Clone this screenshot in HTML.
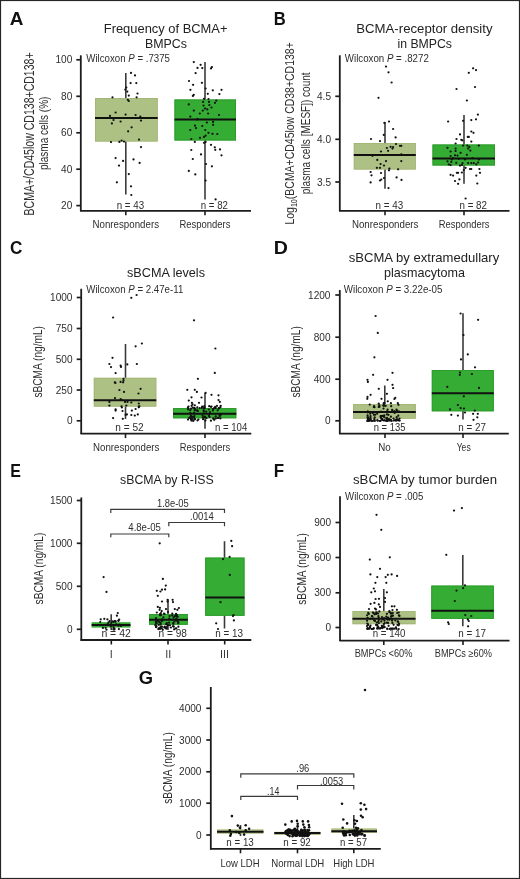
<!DOCTYPE html>
<html><head><meta charset="utf-8"><style>
html,body{margin:0;padding:0;background:#fff;}
svg{display:block;will-change:transform;}
text{font-family:"Liberation Sans", sans-serif;}
</style></head><body>
<svg width="520" height="879" viewBox="0 0 520 879">
<rect x="0" y="0" width="520" height="879" fill="#fff"/>
<rect x="0.5" y="0.5" width="519" height="878" fill="none" stroke="#262626" stroke-width="1.2"/>
<text x="9.73" y="24.6" font-size="18.4" fill="#111" font-weight="bold" textLength="13.67" lengthAdjust="spacingAndGlyphs">A</text>
<text x="165.6" y="32.5" font-size="13.4" fill="#222" text-anchor="middle" textLength="123.7" lengthAdjust="spacingAndGlyphs">Frequency of BCMA+</text>
<text x="166" y="47.5" font-size="13.4" fill="#222" text-anchor="middle" textLength="42" lengthAdjust="spacingAndGlyphs">BMPCs</text>
<line x1="80.8" y1="55.3" x2="80.8" y2="211" stroke="#1c1c1c" stroke-width="1.8"/>
<line x1="76.3" y1="59.8" x2="80.8" y2="59.8" stroke="#1c1c1c" stroke-width="1.7"/>
<text x="72.3" y="63.4" font-size="10.3" fill="#2e2e2e" text-anchor="end" textLength="16.84" lengthAdjust="spacingAndGlyphs">100</text>
<line x1="76.3" y1="96.3" x2="80.8" y2="96.3" stroke="#1c1c1c" stroke-width="1.7"/>
<text x="72.3" y="99.89999999999999" font-size="10.3" fill="#2e2e2e" text-anchor="end" textLength="11.22" lengthAdjust="spacingAndGlyphs">80</text>
<line x1="76.3" y1="132.8" x2="80.8" y2="132.8" stroke="#1c1c1c" stroke-width="1.7"/>
<text x="72.3" y="136.4" font-size="10.3" fill="#2e2e2e" text-anchor="end" textLength="11.22" lengthAdjust="spacingAndGlyphs">60</text>
<line x1="76.3" y1="169.2" x2="80.8" y2="169.2" stroke="#1c1c1c" stroke-width="1.7"/>
<text x="72.3" y="172.79999999999998" font-size="10.3" fill="#2e2e2e" text-anchor="end" textLength="11.22" lengthAdjust="spacingAndGlyphs">40</text>
<line x1="76.3" y1="205.6" x2="80.8" y2="205.6" stroke="#1c1c1c" stroke-width="1.7"/>
<text x="72.3" y="209.2" font-size="10.3" fill="#2e2e2e" text-anchor="end" textLength="11.22" lengthAdjust="spacingAndGlyphs">20</text>
<line x1="80" y1="210.8" x2="251" y2="210.8" stroke="#1c1c1c" stroke-width="1.8"/>
<line x1="125.8" y1="210.8" x2="125.8" y2="215.3" stroke="#1c1c1c" stroke-width="1.6"/>
<line x1="205" y1="210.8" x2="205" y2="215.3" stroke="#1c1c1c" stroke-width="1.6"/>
<line x1="125.8" y1="73" x2="125.8" y2="194.5" stroke="#3a3a3a" stroke-width="1.6"/>
<rect x="95" y="98" width="62.69999999999999" height="43.5" fill="#aec184"/>
<rect x="95.45" y="98.45" width="61.79999999999999" height="42.6" fill="none" stroke="#a3b678" stroke-width="0.9"/>
<line x1="95" y1="118" x2="157.7" y2="118" stroke="#111" stroke-width="2.0"/>
<line x1="205" y1="62" x2="205" y2="199.5" stroke="#3a3a3a" stroke-width="1.6"/>
<rect x="174.5" y="99.5" width="61.5" height="41.0" fill="#35ac33"/>
<rect x="174.95" y="99.95" width="60.6" height="40.1" fill="none" stroke="#2e9a2c" stroke-width="0.9"/>
<line x1="174.5" y1="119.5" x2="236" y2="119.5" stroke="#111" stroke-width="2.0"/>
<text x="273.79" y="24.5" font-size="18.4" fill="#111" font-weight="bold" textLength="11.96" lengthAdjust="spacingAndGlyphs">B</text>
<text x="424.4" y="32.5" font-size="13.4" fill="#222" text-anchor="middle" textLength="136.3" lengthAdjust="spacingAndGlyphs">BCMA-receptor density</text>
<text x="424.7" y="47.5" font-size="13.4" fill="#222" text-anchor="middle" textLength="54.5" lengthAdjust="spacingAndGlyphs">in BMPCs</text>
<line x1="339.8" y1="55.3" x2="339.8" y2="211" stroke="#1c1c1c" stroke-width="1.8"/>
<line x1="335.3" y1="96.3" x2="339.8" y2="96.3" stroke="#1c1c1c" stroke-width="1.7"/>
<text x="331" y="99.89999999999999" font-size="10.3" fill="#2e2e2e" text-anchor="end" textLength="14.03" lengthAdjust="spacingAndGlyphs">4.5</text>
<line x1="335.3" y1="139.3" x2="339.8" y2="139.3" stroke="#1c1c1c" stroke-width="1.7"/>
<text x="331" y="142.9" font-size="10.3" fill="#2e2e2e" text-anchor="end" textLength="14.03" lengthAdjust="spacingAndGlyphs">4.0</text>
<line x1="335.3" y1="182" x2="339.8" y2="182" stroke="#1c1c1c" stroke-width="1.7"/>
<text x="331" y="185.6" font-size="10.3" fill="#2e2e2e" text-anchor="end" textLength="14.03" lengthAdjust="spacingAndGlyphs">3.5</text>
<line x1="339" y1="210.8" x2="509.5" y2="210.8" stroke="#1c1c1c" stroke-width="1.8"/>
<line x1="385" y1="210.8" x2="385" y2="215.3" stroke="#1c1c1c" stroke-width="1.6"/>
<line x1="464" y1="210.8" x2="464" y2="215.3" stroke="#1c1c1c" stroke-width="1.6"/>
<line x1="385" y1="122" x2="385" y2="188.8" stroke="#3a3a3a" stroke-width="1.6"/>
<rect x="353.8" y="143" width="62.0" height="26.5" fill="#aec184"/>
<rect x="354.25" y="143.45" width="61.1" height="25.6" fill="none" stroke="#a3b678" stroke-width="0.9"/>
<line x1="353.8" y1="155" x2="415.8" y2="155" stroke="#111" stroke-width="2.0"/>
<line x1="464" y1="115" x2="464" y2="183.8" stroke="#3a3a3a" stroke-width="1.6"/>
<rect x="432.5" y="144.5" width="62.5" height="21.0" fill="#35ac33"/>
<rect x="432.95" y="144.95" width="61.6" height="20.1" fill="none" stroke="#2e9a2c" stroke-width="0.9"/>
<line x1="432.5" y1="158.5" x2="495" y2="158.5" stroke="#111" stroke-width="2.0"/>
<text x="10.1" y="254.42" font-size="18.4" fill="#111" font-weight="bold" textLength="12.37" lengthAdjust="spacingAndGlyphs">C</text>
<text x="166" y="277" font-size="13.4" fill="#222" text-anchor="middle" textLength="78" lengthAdjust="spacingAndGlyphs">sBCMA levels</text>
<line x1="81.2" y1="288.8" x2="81.2" y2="434" stroke="#1c1c1c" stroke-width="1.8"/>
<line x1="76.7" y1="297.5" x2="81.2" y2="297.5" stroke="#1c1c1c" stroke-width="1.7"/>
<text x="72.5" y="301.1" font-size="10.3" fill="#2e2e2e" text-anchor="end" textLength="22.45" lengthAdjust="spacingAndGlyphs">1000</text>
<line x1="76.7" y1="328.5" x2="81.2" y2="328.5" stroke="#1c1c1c" stroke-width="1.7"/>
<text x="72.5" y="332.1" font-size="10.3" fill="#2e2e2e" text-anchor="end" textLength="16.84" lengthAdjust="spacingAndGlyphs">750</text>
<line x1="76.7" y1="359.3" x2="81.2" y2="359.3" stroke="#1c1c1c" stroke-width="1.7"/>
<text x="72.5" y="362.90000000000003" font-size="10.3" fill="#2e2e2e" text-anchor="end" textLength="16.84" lengthAdjust="spacingAndGlyphs">500</text>
<line x1="76.7" y1="390" x2="81.2" y2="390" stroke="#1c1c1c" stroke-width="1.7"/>
<text x="72.5" y="393.6" font-size="10.3" fill="#2e2e2e" text-anchor="end" textLength="16.84" lengthAdjust="spacingAndGlyphs">250</text>
<line x1="76.7" y1="420.8" x2="81.2" y2="420.8" stroke="#1c1c1c" stroke-width="1.7"/>
<text x="72.5" y="424.40000000000003" font-size="10.3" fill="#2e2e2e" text-anchor="end" textLength="5.61" lengthAdjust="spacingAndGlyphs">0</text>
<line x1="80.5" y1="433.6" x2="251.3" y2="433.6" stroke="#1c1c1c" stroke-width="1.8"/>
<line x1="125.5" y1="433.6" x2="125.5" y2="438.1" stroke="#1c1c1c" stroke-width="1.6"/>
<line x1="205" y1="433.6" x2="205" y2="438.1" stroke="#1c1c1c" stroke-width="1.6"/>
<line x1="125.5" y1="344" x2="125.5" y2="419" stroke="#3a3a3a" stroke-width="1.6"/>
<rect x="93.8" y="377.8" width="62.500000000000014" height="28.80000000000001" fill="#aec184"/>
<rect x="94.25" y="378.25" width="61.600000000000016" height="27.900000000000013" fill="none" stroke="#a3b678" stroke-width="0.9"/>
<line x1="93.8" y1="400.3" x2="156.3" y2="400.3" stroke="#111" stroke-width="2.0"/>
<line x1="205" y1="393" x2="205" y2="428.8" stroke="#3a3a3a" stroke-width="1.6"/>
<rect x="173" y="408" width="63.30000000000001" height="10.300000000000011" fill="#35ac33"/>
<rect x="173.45" y="408.45" width="62.40000000000001" height="9.400000000000011" fill="none" stroke="#2e9a2c" stroke-width="0.9"/>
<line x1="173" y1="413.8" x2="236.3" y2="413.8" stroke="#111" stroke-width="2.0"/>
<text x="273.69" y="254.3" font-size="18.4" fill="#111" font-weight="bold" textLength="14.14" lengthAdjust="spacingAndGlyphs">D</text>
<text x="424" y="262" font-size="13.4" fill="#222" text-anchor="middle" textLength="150.5" lengthAdjust="spacingAndGlyphs">sBCMA by extramedullary</text>
<text x="424.5" y="277" font-size="13.4" fill="#222" text-anchor="middle" textLength="81" lengthAdjust="spacingAndGlyphs">plasmacytoma</text>
<line x1="339.8" y1="290" x2="339.8" y2="434" stroke="#1c1c1c" stroke-width="1.8"/>
<line x1="335.3" y1="295" x2="339.8" y2="295" stroke="#1c1c1c" stroke-width="1.7"/>
<text x="330.5" y="298.6" font-size="10.3" fill="#2e2e2e" text-anchor="end" textLength="22.45" lengthAdjust="spacingAndGlyphs">1200</text>
<line x1="335.3" y1="337.2" x2="339.8" y2="337.2" stroke="#1c1c1c" stroke-width="1.7"/>
<text x="330.5" y="340.8" font-size="10.3" fill="#2e2e2e" text-anchor="end" textLength="16.84" lengthAdjust="spacingAndGlyphs">800</text>
<line x1="335.3" y1="379.2" x2="339.8" y2="379.2" stroke="#1c1c1c" stroke-width="1.7"/>
<text x="330.5" y="382.8" font-size="10.3" fill="#2e2e2e" text-anchor="end" textLength="16.84" lengthAdjust="spacingAndGlyphs">400</text>
<line x1="335.3" y1="420.8" x2="339.8" y2="420.8" stroke="#1c1c1c" stroke-width="1.7"/>
<text x="330.5" y="424.40000000000003" font-size="10.3" fill="#2e2e2e" text-anchor="end" textLength="5.61" lengthAdjust="spacingAndGlyphs">0</text>
<line x1="339" y1="433.6" x2="508.8" y2="433.6" stroke="#1c1c1c" stroke-width="1.8"/>
<line x1="385" y1="433.6" x2="385" y2="438.1" stroke="#1c1c1c" stroke-width="1.6"/>
<line x1="463" y1="433.6" x2="463" y2="438.1" stroke="#1c1c1c" stroke-width="1.6"/>
<line x1="384.8" y1="385.6" x2="384.8" y2="421" stroke="#3a3a3a" stroke-width="1.6"/>
<rect x="353" y="404" width="62.80000000000001" height="14.699999999999989" fill="#aec184"/>
<rect x="353.45" y="404.45" width="61.90000000000001" height="13.799999999999988" fill="none" stroke="#a3b678" stroke-width="0.9"/>
<line x1="353" y1="411.9" x2="415.8" y2="411.9" stroke="#111" stroke-width="2.0"/>
<line x1="463" y1="313.3" x2="463" y2="419.5" stroke="#3a3a3a" stroke-width="1.6"/>
<rect x="431.8" y="370" width="62.0" height="41.30000000000001" fill="#35ac33"/>
<rect x="432.25" y="370.45" width="61.1" height="40.40000000000001" fill="none" stroke="#2e9a2c" stroke-width="0.9"/>
<line x1="431.8" y1="393.3" x2="493.8" y2="393.3" stroke="#111" stroke-width="2.0"/>
<text x="10.23" y="477.3" font-size="18.4" fill="#111" font-weight="bold" textLength="10.7" lengthAdjust="spacingAndGlyphs">E</text>
<text x="166.9" y="484.2" font-size="13.4" fill="#222" text-anchor="middle" textLength="93.7" lengthAdjust="spacingAndGlyphs">sBCMA by R-ISS</text>
<line x1="81.3" y1="497.5" x2="81.3" y2="640.8" stroke="#1c1c1c" stroke-width="1.8"/>
<line x1="76.8" y1="500.5" x2="81.3" y2="500.5" stroke="#1c1c1c" stroke-width="1.7"/>
<text x="72.5" y="504.1" font-size="10.3" fill="#2e2e2e" text-anchor="end" textLength="22.45" lengthAdjust="spacingAndGlyphs">1500</text>
<line x1="76.8" y1="543.3" x2="81.3" y2="543.3" stroke="#1c1c1c" stroke-width="1.7"/>
<text x="72.5" y="546.9" font-size="10.3" fill="#2e2e2e" text-anchor="end" textLength="22.45" lengthAdjust="spacingAndGlyphs">1000</text>
<line x1="76.8" y1="586.3" x2="81.3" y2="586.3" stroke="#1c1c1c" stroke-width="1.7"/>
<text x="72.5" y="589.9" font-size="10.3" fill="#2e2e2e" text-anchor="end" textLength="16.84" lengthAdjust="spacingAndGlyphs">500</text>
<line x1="76.8" y1="629.3" x2="81.3" y2="629.3" stroke="#1c1c1c" stroke-width="1.7"/>
<text x="72.5" y="632.9" font-size="10.3" fill="#2e2e2e" text-anchor="end" textLength="5.61" lengthAdjust="spacingAndGlyphs">0</text>
<line x1="80.5" y1="640" x2="251.3" y2="640" stroke="#1c1c1c" stroke-width="1.8"/>
<line x1="111.3" y1="640" x2="111.3" y2="644.5" stroke="#1c1c1c" stroke-width="1.6"/>
<line x1="168" y1="640" x2="168" y2="644.5" stroke="#1c1c1c" stroke-width="1.6"/>
<line x1="224.7" y1="640" x2="224.7" y2="644.5" stroke="#1c1c1c" stroke-width="1.6"/>
<line x1="111.2" y1="614.3" x2="111.2" y2="630" stroke="#3a3a3a" stroke-width="1.6"/>
<rect x="91.6" y="622.2" width="38.900000000000006" height="5.399999999999977" fill="#35ac33"/>
<line x1="91.6" y1="625" x2="130.5" y2="625" stroke="#111" stroke-width="2.0"/>
<line x1="168" y1="599.4" x2="168" y2="630" stroke="#3a3a3a" stroke-width="1.6"/>
<rect x="149" y="614" width="38.80000000000001" height="10.799999999999955" fill="#35ac33"/>
<rect x="149.45" y="614.45" width="37.90000000000001" height="9.899999999999954" fill="none" stroke="#2e9a2c" stroke-width="0.9"/>
<line x1="149" y1="619.7" x2="187.8" y2="619.7" stroke="#111" stroke-width="2.0"/>
<line x1="224.5" y1="541.2" x2="224.5" y2="628.5" stroke="#3a3a3a" stroke-width="1.6"/>
<rect x="205.2" y="557.6" width="39.30000000000001" height="58.19999999999993" fill="#35ac33"/>
<rect x="205.64999999999998" y="558.0500000000001" width="38.40000000000001" height="57.29999999999993" fill="none" stroke="#2e9a2c" stroke-width="0.9"/>
<line x1="205.2" y1="597.5" x2="244.5" y2="597.5" stroke="#111" stroke-width="2.0"/>
<path d="M110.8 513.0 V509.3 H224.5 V513.0" fill="none" stroke="#3a3a3a" stroke-width="1.2"/>
<path d="M168.8 526.2 V522.5 H224.5 V526.2" fill="none" stroke="#3a3a3a" stroke-width="1.2"/>
<path d="M110.8 537.2 V534 H168.8 V537.2" fill="none" stroke="#3a3a3a" stroke-width="1.2"/>
<text x="273.86" y="477.3" font-size="18.4" fill="#111" font-weight="bold" textLength="10.36" lengthAdjust="spacingAndGlyphs">F</text>
<text x="425" y="483.8" font-size="13.4" fill="#222" text-anchor="middle" textLength="144" lengthAdjust="spacingAndGlyphs">sBCMA by tumor burden</text>
<line x1="340" y1="496.3" x2="340" y2="641" stroke="#1c1c1c" stroke-width="1.8"/>
<line x1="335.5" y1="522.5" x2="340" y2="522.5" stroke="#1c1c1c" stroke-width="1.7"/>
<text x="331" y="526.1" font-size="10.3" fill="#2e2e2e" text-anchor="end" textLength="16.84" lengthAdjust="spacingAndGlyphs">900</text>
<line x1="335.5" y1="557.5" x2="340" y2="557.5" stroke="#1c1c1c" stroke-width="1.7"/>
<text x="331" y="561.1" font-size="10.3" fill="#2e2e2e" text-anchor="end" textLength="16.84" lengthAdjust="spacingAndGlyphs">600</text>
<line x1="335.5" y1="592.8" x2="340" y2="592.8" stroke="#1c1c1c" stroke-width="1.7"/>
<text x="331" y="596.4" font-size="10.3" fill="#2e2e2e" text-anchor="end" textLength="16.84" lengthAdjust="spacingAndGlyphs">300</text>
<line x1="335.5" y1="627.5" x2="340" y2="627.5" stroke="#1c1c1c" stroke-width="1.7"/>
<text x="331" y="631.1" font-size="10.3" fill="#2e2e2e" text-anchor="end" textLength="5.61" lengthAdjust="spacingAndGlyphs">0</text>
<line x1="339.5" y1="640.6" x2="509.5" y2="640.6" stroke="#1c1c1c" stroke-width="1.8"/>
<line x1="383.8" y1="640.6" x2="383.8" y2="645.1" stroke="#1c1c1c" stroke-width="1.6"/>
<line x1="463" y1="640.6" x2="463" y2="645.1" stroke="#1c1c1c" stroke-width="1.6"/>
<line x1="383.8" y1="589" x2="383.8" y2="628" stroke="#3a3a3a" stroke-width="1.6"/>
<rect x="352.5" y="611.1" width="63.0" height="13.100000000000023" fill="#aec184"/>
<rect x="352.95" y="611.5500000000001" width="62.1" height="12.200000000000022" fill="none" stroke="#a3b678" stroke-width="0.9"/>
<line x1="352.5" y1="618.7" x2="415.5" y2="618.7" stroke="#111" stroke-width="2.0"/>
<line x1="462.8" y1="555" x2="462.8" y2="626.3" stroke="#3a3a3a" stroke-width="1.6"/>
<rect x="431.3" y="585.6" width="62.5" height="33.19999999999993" fill="#35ac33"/>
<rect x="431.75" y="586.0500000000001" width="61.6" height="32.29999999999993" fill="none" stroke="#2e9a2c" stroke-width="0.9"/>
<line x1="431.3" y1="610.8" x2="493.8" y2="610.8" stroke="#111" stroke-width="2.0"/>
<text x="138.85" y="684.11" font-size="18.4" fill="#111" font-weight="bold" textLength="14.29" lengthAdjust="spacingAndGlyphs">G</text>
<line x1="210.8" y1="687" x2="210.8" y2="849.5" stroke="#1c1c1c" stroke-width="1.8"/>
<line x1="206.3" y1="708.3" x2="210.8" y2="708.3" stroke="#1c1c1c" stroke-width="1.7"/>
<text x="201.5" y="711.9" font-size="10.3" fill="#2e2e2e" text-anchor="end" textLength="22.45" lengthAdjust="spacingAndGlyphs">4000</text>
<line x1="206.3" y1="740" x2="210.8" y2="740" stroke="#1c1c1c" stroke-width="1.7"/>
<text x="201.5" y="743.6" font-size="10.3" fill="#2e2e2e" text-anchor="end" textLength="22.45" lengthAdjust="spacingAndGlyphs">3000</text>
<line x1="206.3" y1="771.8" x2="210.8" y2="771.8" stroke="#1c1c1c" stroke-width="1.7"/>
<text x="201.5" y="775.4" font-size="10.3" fill="#2e2e2e" text-anchor="end" textLength="22.45" lengthAdjust="spacingAndGlyphs">2000</text>
<line x1="206.3" y1="803.2" x2="210.8" y2="803.2" stroke="#1c1c1c" stroke-width="1.7"/>
<text x="201.5" y="806.8000000000001" font-size="10.3" fill="#2e2e2e" text-anchor="end" textLength="22.45" lengthAdjust="spacingAndGlyphs">1000</text>
<line x1="206.3" y1="835" x2="210.8" y2="835" stroke="#1c1c1c" stroke-width="1.7"/>
<text x="201.5" y="838.6" font-size="10.3" fill="#2e2e2e" text-anchor="end" textLength="5.61" lengthAdjust="spacingAndGlyphs">0</text>
<line x1="210" y1="848.8" x2="380.8" y2="848.8" stroke="#1c1c1c" stroke-width="1.8"/>
<line x1="240.5" y1="848.8" x2="240.5" y2="853.3" stroke="#1c1c1c" stroke-width="1.6"/>
<line x1="297.5" y1="848.8" x2="297.5" y2="853.3" stroke="#1c1c1c" stroke-width="1.6"/>
<line x1="353.8" y1="848.8" x2="353.8" y2="853.3" stroke="#1c1c1c" stroke-width="1.6"/>
<line x1="240.5" y1="825" x2="240.5" y2="836" stroke="#3a3a3a" stroke-width="1.6"/>
<rect x="217" y="829.3" width="46.5" height="4.5" fill="#aec184"/>
<line x1="217" y1="831.8" x2="263.5" y2="831.8" stroke="#111" stroke-width="2.0"/>
<line x1="297.5" y1="825" x2="297.5" y2="836" stroke="#3a3a3a" stroke-width="1.6"/>
<rect x="274.3" y="831.8" width="46.19999999999999" height="3.2000000000000455" fill="#aec184"/>
<line x1="274.3" y1="833" x2="320.5" y2="833" stroke="#111" stroke-width="2.0"/>
<line x1="353.8" y1="815" x2="353.8" y2="836" stroke="#3a3a3a" stroke-width="1.6"/>
<rect x="331.3" y="828.3" width="45.69999999999999" height="4.7000000000000455" fill="#aec184"/>
<line x1="331.3" y1="831.3" x2="377" y2="831.3" stroke="#111" stroke-width="2.0"/>
<path d="M240.8 777.8 V773.8 H353.8 V777.8" fill="none" stroke="#3a3a3a" stroke-width="1.2"/>
<path d="M297.5 789.5 V785.5 H353.8 V789.5" fill="none" stroke="#3a3a3a" stroke-width="1.2"/>
<path d="M240.8 800.0 V796.3 H297.5 V800.0" fill="none" stroke="#3a3a3a" stroke-width="1.2"/>
<text x="34" y="215.5" font-size="14" fill="#2e2e2e" textLength="163.1" lengthAdjust="spacingAndGlyphs" transform="rotate(-90 34 215.5)">BCMA+/CD45low CD138+CD138+</text>
<text x="48.2" y="170" font-size="13.6" fill="#2e2e2e" textLength="73.4" lengthAdjust="spacingAndGlyphs" transform="rotate(-90 48.2 170)">plasma cells (%)</text>
<text x="294.4" y="224.6" font-size="13.2" fill="#2e2e2e" textLength="182.4" lengthAdjust="spacingAndGlyphs" transform="rotate(-90 294.4 224.6)">Log<tspan font-size="9" dy="2.5">10</tspan><tspan dy="-2.5">(BCMA+CD45low CD38+CD138+</tspan></text>
<text x="309.8" y="194.2" font-size="13.2" fill="#2e2e2e" textLength="121.8" lengthAdjust="spacingAndGlyphs" transform="rotate(-90 309.8 194.2)">plasma cells [MESF]) count</text>
<text x="42.3" y="397.6" font-size="13.2" fill="#2e2e2e" textLength="71.6" lengthAdjust="spacingAndGlyphs" transform="rotate(-90 42.3 397.6)">sBCMA (ng/mL)</text>
<text x="300.4" y="397.6" font-size="13.2" fill="#2e2e2e" textLength="71.4" lengthAdjust="spacingAndGlyphs" transform="rotate(-90 300.4 397.6)">sBCMA (ng/mL)</text>
<text x="42.6" y="604.4" font-size="13.2" fill="#2e2e2e" textLength="71.8" lengthAdjust="spacingAndGlyphs" transform="rotate(-90 42.6 604.4)">sBCMA (ng/mL)</text>
<text x="306.2" y="604.8" font-size="13.2" fill="#2e2e2e" textLength="71.7" lengthAdjust="spacingAndGlyphs" transform="rotate(-90 306.2 604.8)">sBCMA (ng/mL)</text>
<text x="172.1" y="803.8" font-size="13.2" fill="#2e2e2e" textLength="71.6" lengthAdjust="spacingAndGlyphs" transform="rotate(-90 172.1 803.8)">sBCMA (ng/mL)</text>
<text x="86.3" y="62" font-size="10.4" fill="#2e2e2e" textLength="83.7" lengthAdjust="spacingAndGlyphs">Wilcoxon <tspan font-style="italic">P</tspan> = .7375</text>
<text x="344.8" y="62.3" font-size="10.4" fill="#2e2e2e" textLength="84.0" lengthAdjust="spacingAndGlyphs">Wilcoxon <tspan font-style="italic">P</tspan> = .8272</text>
<text x="86.3" y="292.8" font-size="10.4" fill="#2e2e2e" textLength="97.0" lengthAdjust="spacingAndGlyphs">Wilcoxon <tspan font-style="italic">P</tspan> = 2.47e-11</text>
<text x="343.8" y="293" font-size="10.4" fill="#2e2e2e" textLength="98.7" lengthAdjust="spacingAndGlyphs">Wilcoxon <tspan font-style="italic">P</tspan> = 3.22e-05</text>
<text x="345" y="500" font-size="10.4" fill="#2e2e2e" textLength="78.3" lengthAdjust="spacingAndGlyphs">Wilcoxon <tspan font-style="italic">P</tspan> = .005</text>
<text x="116.7" y="208.7" font-size="10.3" fill="#2e2e2e" textLength="27.4" lengthAdjust="spacingAndGlyphs">n = 43</text>
<text x="200.8" y="208.7" font-size="10.3" fill="#2e2e2e" textLength="27.2" lengthAdjust="spacingAndGlyphs">n = 82</text>
<text x="375.6" y="208.8" font-size="10.3" fill="#2e2e2e" textLength="27.5" lengthAdjust="spacingAndGlyphs">n = 43</text>
<text x="459.5" y="208.8" font-size="10.3" fill="#2e2e2e" textLength="27.5" lengthAdjust="spacingAndGlyphs">n = 82</text>
<text x="115.3" y="430.7" font-size="10.3" fill="#2e2e2e" textLength="28.4" lengthAdjust="spacingAndGlyphs">n = 52</text>
<text x="215" y="430.7" font-size="10.3" fill="#2e2e2e" textLength="32.3" lengthAdjust="spacingAndGlyphs">n = 104</text>
<text x="373.7" y="430.7" font-size="10.3" fill="#2e2e2e" textLength="31.7" lengthAdjust="spacingAndGlyphs">n = 135</text>
<text x="458.3" y="430.7" font-size="10.3" fill="#2e2e2e" textLength="27.7" lengthAdjust="spacingAndGlyphs">n = 27</text>
<text x="101.4" y="637" font-size="10.3" fill="#2e2e2e" textLength="29.4" lengthAdjust="spacingAndGlyphs">n = 42</text>
<text x="158.6" y="637" font-size="10.3" fill="#2e2e2e" textLength="28.4" lengthAdjust="spacingAndGlyphs">n = 98</text>
<text x="215.2" y="637" font-size="10.3" fill="#2e2e2e" textLength="27.8" lengthAdjust="spacingAndGlyphs">n = 13</text>
<text x="372.7" y="637" font-size="10.3" fill="#2e2e2e" textLength="32.7" lengthAdjust="spacingAndGlyphs">n = 140</text>
<text x="458.3" y="637" font-size="10.3" fill="#2e2e2e" textLength="27.7" lengthAdjust="spacingAndGlyphs">n = 17</text>
<text x="226.3" y="846.3" font-size="10.3" fill="#2e2e2e" textLength="27.5" lengthAdjust="spacingAndGlyphs">n = 13</text>
<text x="283.3" y="846.3" font-size="10.3" fill="#2e2e2e" textLength="27.5" lengthAdjust="spacingAndGlyphs">n = 92</text>
<text x="340" y="846.3" font-size="10.3" fill="#2e2e2e" textLength="27" lengthAdjust="spacingAndGlyphs">n = 57</text>
<text x="92.5" y="228.2" font-size="10.6" fill="#2e2e2e" textLength="66.5" lengthAdjust="spacingAndGlyphs">Nonresponders</text>
<text x="179.5" y="228.2" font-size="10.6" fill="#2e2e2e" textLength="51.0" lengthAdjust="spacingAndGlyphs">Responders</text>
<text x="351.9" y="228.1" font-size="10.6" fill="#2e2e2e" textLength="66.6" lengthAdjust="spacingAndGlyphs">Nonresponders</text>
<text x="438.8" y="228.1" font-size="10.6" fill="#2e2e2e" textLength="50.7" lengthAdjust="spacingAndGlyphs">Responders</text>
<text x="93" y="450.5" font-size="10.6" fill="#2e2e2e" textLength="66.4" lengthAdjust="spacingAndGlyphs">Nonresponders</text>
<text x="179.7" y="450.5" font-size="10.6" fill="#2e2e2e" textLength="50.6" lengthAdjust="spacingAndGlyphs">Responders</text>
<text x="378.2" y="450.5" font-size="10.6" fill="#2e2e2e" textLength="12.5" lengthAdjust="spacingAndGlyphs">No</text>
<text x="456.7" y="450.5" font-size="10.6" fill="#2e2e2e" textLength="14.0" lengthAdjust="spacingAndGlyphs">Yes</text>
<text x="354.7" y="656.8" font-size="10.6" fill="#2e2e2e" textLength="57.8" lengthAdjust="spacingAndGlyphs">BMPCs &lt;60%</text>
<text x="434.8" y="656.8" font-size="10.6" fill="#2e2e2e" textLength="57.2" lengthAdjust="spacingAndGlyphs">BMPCs ≥60%</text>
<text x="220.5" y="866.9" font-size="10.6" fill="#2e2e2e" textLength="39.0" lengthAdjust="spacingAndGlyphs">Low LDH</text>
<text x="271.3" y="866.9" font-size="10.6" fill="#2e2e2e" textLength="53.0" lengthAdjust="spacingAndGlyphs">Normal LDH</text>
<text x="333.3" y="866.9" font-size="10.6" fill="#2e2e2e" textLength="41.2" lengthAdjust="spacingAndGlyphs">High LDH</text>
<text x="111.2" y="657.6" font-size="10.8" fill="#3a3a3a" text-anchor="middle">I</text>
<text x="168.3" y="657.6" font-size="10.8" fill="#3a3a3a" text-anchor="middle">II</text>
<text x="224.4" y="657.6" font-size="10.8" fill="#3a3a3a" text-anchor="middle">III</text>
<text x="157" y="506.8" font-size="10" fill="#2e2e2e" textLength="31.8" lengthAdjust="spacingAndGlyphs">1.8e-05</text>
<text x="190" y="520" font-size="10" fill="#2e2e2e" textLength="23.8" lengthAdjust="spacingAndGlyphs">.0014</text>
<text x="128.3" y="531.3" font-size="10" fill="#2e2e2e" textLength="32.5" lengthAdjust="spacingAndGlyphs">4.8e-05</text>
<text x="296.3" y="772.1" font-size="10" fill="#2e2e2e" textLength="13.0" lengthAdjust="spacingAndGlyphs">.96</text>
<text x="320" y="785.2" font-size="10" fill="#2e2e2e" textLength="23.3" lengthAdjust="spacingAndGlyphs">.0053</text>
<text x="267" y="795" font-size="10" fill="#2e2e2e" textLength="12.3" lengthAdjust="spacingAndGlyphs">.14</text>
<g fill="#111">
<circle cx="131" cy="72.9" r="1.12"/>
<circle cx="135" cy="75.4" r="1.12"/>
<circle cx="130.6" cy="83.1" r="1.12"/>
<circle cx="136.3" cy="83.1" r="1.12"/>
<circle cx="126.3" cy="87.5" r="1.12"/>
<circle cx="125.3" cy="89.6" r="1.12"/>
<circle cx="127.3" cy="91.6" r="1.12"/>
<circle cx="137.5" cy="93.5" r="1.12"/>
<circle cx="128.8" cy="95.6" r="1.12"/>
<circle cx="112.5" cy="97.3" r="1.12"/>
<circle cx="136.6" cy="97.3" r="1.12"/>
<circle cx="127.8" cy="99.8" r="1.12"/>
<circle cx="128.8" cy="101" r="1.12"/>
<circle cx="115.6" cy="112.5" r="1.12"/>
<circle cx="110" cy="115.9" r="1.12"/>
<circle cx="125.6" cy="114.6" r="1.12"/>
<circle cx="135.6" cy="115" r="1.12"/>
<circle cx="140.3" cy="116.5" r="1.12"/>
<circle cx="113.5" cy="120" r="1.12"/>
<circle cx="120.6" cy="121.5" r="1.12"/>
<circle cx="141" cy="120.6" r="1.12"/>
<circle cx="111.9" cy="123.4" r="1.12"/>
<circle cx="131.6" cy="127.3" r="1.12"/>
<circle cx="128.1" cy="131.3" r="1.12"/>
<circle cx="139" cy="139.6" r="1.12"/>
<circle cx="111" cy="142.1" r="1.12"/>
<circle cx="119.4" cy="141.9" r="1.12"/>
<circle cx="121.6" cy="140.6" r="1.12"/>
<circle cx="124" cy="141.6" r="1.12"/>
<circle cx="141" cy="147.1" r="1.12"/>
<circle cx="115.6" cy="158.1" r="1.12"/>
<circle cx="123.1" cy="160.9" r="1.12"/>
<circle cx="133.5" cy="159.4" r="1.12"/>
<circle cx="119" cy="165.6" r="1.12"/>
<circle cx="139.6" cy="162.9" r="1.12"/>
<circle cx="128.8" cy="174.1" r="1.12"/>
<circle cx="116.9" cy="182.3" r="1.12"/>
<circle cx="131" cy="186.3" r="1.12"/>
<circle cx="131.3" cy="195" r="1.12"/>
<circle cx="193.8" cy="62.1" r="1.12"/>
<circle cx="200.6" cy="64.8" r="1.12"/>
<circle cx="197.5" cy="67.9" r="1.12"/>
<circle cx="202.3" cy="68.1" r="1.12"/>
<circle cx="211.9" cy="67.1" r="1.12"/>
<circle cx="211" cy="68.4" r="1.12"/>
<circle cx="195.6" cy="73.1" r="1.12"/>
<circle cx="189" cy="81" r="1.12"/>
<circle cx="201.9" cy="82.8" r="1.12"/>
<circle cx="193.1" cy="84.8" r="1.12"/>
<circle cx="190.4" cy="89.8" r="1.12"/>
<circle cx="212.8" cy="90.3" r="1.12"/>
<circle cx="221.5" cy="89.8" r="1.12"/>
<circle cx="205.6" cy="88.5" r="1.12"/>
<circle cx="193.8" cy="94.8" r="1.12"/>
<circle cx="192.9" cy="95.9" r="1.12"/>
<circle cx="207.8" cy="93.8" r="1.12"/>
<circle cx="219.4" cy="94.1" r="1.12"/>
<circle cx="204" cy="98.8" r="1.12"/>
<circle cx="208.5" cy="99" r="1.12"/>
<circle cx="216.3" cy="100.6" r="1.12"/>
<circle cx="203.1" cy="101.9" r="1.12"/>
<circle cx="209" cy="101.9" r="1.12"/>
<circle cx="215" cy="102.8" r="1.12"/>
<circle cx="188.8" cy="104.4" r="1.12"/>
<circle cx="203.5" cy="105.6" r="1.12"/>
<circle cx="209.4" cy="105" r="1.12"/>
<circle cx="211.5" cy="107.5" r="1.12"/>
<circle cx="205" cy="108.5" r="1.12"/>
<circle cx="207.3" cy="109.4" r="1.12"/>
<circle cx="193.8" cy="110.6" r="1.12"/>
<circle cx="202.8" cy="110.6" r="1.12"/>
<circle cx="199.8" cy="113.5" r="1.12"/>
<circle cx="208.1" cy="113.5" r="1.12"/>
<circle cx="219" cy="115" r="1.12"/>
<circle cx="190.3" cy="116.6" r="1.12"/>
<circle cx="197.5" cy="119" r="1.12"/>
<circle cx="197.3" cy="119.4" r="1.12"/>
<circle cx="206.9" cy="122.5" r="1.12"/>
<circle cx="213.1" cy="121.9" r="1.12"/>
<circle cx="213.1" cy="124.8" r="1.12"/>
<circle cx="195" cy="125.6" r="1.12"/>
<circle cx="202.3" cy="126" r="1.12"/>
<circle cx="196" cy="128.1" r="1.12"/>
<circle cx="190.3" cy="130" r="1.12"/>
<circle cx="205.3" cy="130" r="1.12"/>
<circle cx="208.5" cy="132.8" r="1.12"/>
<circle cx="212.5" cy="133.8" r="1.12"/>
<circle cx="217.3" cy="134" r="1.12"/>
<circle cx="205.6" cy="135.6" r="1.12"/>
<circle cx="204" cy="136.9" r="1.12"/>
<circle cx="200" cy="137.8" r="1.12"/>
<circle cx="191.3" cy="139" r="1.12"/>
<circle cx="194.8" cy="141.9" r="1.12"/>
<circle cx="204" cy="142.8" r="1.12"/>
<circle cx="205.6" cy="141.9" r="1.12"/>
<circle cx="211" cy="144.8" r="1.12"/>
<circle cx="214.8" cy="147.3" r="1.12"/>
<circle cx="215.3" cy="149.8" r="1.12"/>
<circle cx="220" cy="149.4" r="1.12"/>
<circle cx="191.3" cy="150" r="1.12"/>
<circle cx="201" cy="154.4" r="1.12"/>
<circle cx="221.5" cy="155.3" r="1.12"/>
<circle cx="192.8" cy="159" r="1.12"/>
<circle cx="206" cy="164" r="1.12"/>
<circle cx="211.9" cy="166.3" r="1.12"/>
<circle cx="188.8" cy="170.9" r="1.12"/>
<circle cx="195.3" cy="174.4" r="1.12"/>
<circle cx="205.6" cy="180.6" r="1.12"/>
<circle cx="215.6" cy="199.4" r="1.12"/>
<circle cx="386" cy="66.6" r="1.12"/>
<circle cx="388.5" cy="72.3" r="1.12"/>
<circle cx="391.6" cy="82.5" r="1.12"/>
<circle cx="378.5" cy="97.8" r="1.12"/>
<circle cx="384.4" cy="122.9" r="1.12"/>
<circle cx="389" cy="121.5" r="1.12"/>
<circle cx="393.1" cy="129" r="1.12"/>
<circle cx="383.8" cy="134.9" r="1.12"/>
<circle cx="395.6" cy="137.4" r="1.12"/>
<circle cx="371" cy="139" r="1.12"/>
<circle cx="380" cy="141.1" r="1.12"/>
<circle cx="396" cy="144" r="1.12"/>
<circle cx="400" cy="145.8" r="1.12"/>
<circle cx="401.3" cy="145.8" r="1.12"/>
<circle cx="390.6" cy="146.8" r="1.12"/>
<circle cx="393.1" cy="147" r="1.12"/>
<circle cx="386.9" cy="148" r="1.12"/>
<circle cx="392.5" cy="148.6" r="1.12"/>
<circle cx="388.1" cy="150.8" r="1.12"/>
<circle cx="381" cy="151.5" r="1.12"/>
<circle cx="372.5" cy="155.8" r="1.12"/>
<circle cx="401.3" cy="154.3" r="1.12"/>
<circle cx="377.3" cy="159.9" r="1.12"/>
<circle cx="386" cy="161.1" r="1.12"/>
<circle cx="401.3" cy="161.1" r="1.12"/>
<circle cx="380.6" cy="164" r="1.12"/>
<circle cx="384" cy="165.5" r="1.12"/>
<circle cx="376.9" cy="167.8" r="1.12"/>
<circle cx="380" cy="167.8" r="1.12"/>
<circle cx="389.4" cy="168.6" r="1.12"/>
<circle cx="389" cy="170.3" r="1.12"/>
<circle cx="398.1" cy="169.3" r="1.12"/>
<circle cx="370.6" cy="172" r="1.12"/>
<circle cx="381" cy="173" r="1.12"/>
<circle cx="371.5" cy="175.3" r="1.12"/>
<circle cx="396.6" cy="177.4" r="1.12"/>
<circle cx="384" cy="178" r="1.12"/>
<circle cx="381.3" cy="179.5" r="1.12"/>
<circle cx="380" cy="180.5" r="1.12"/>
<circle cx="401.5" cy="179.9" r="1.12"/>
<circle cx="370.6" cy="182.4" r="1.12"/>
<circle cx="388.5" cy="188.1" r="1.12"/>
<circle cx="473.1" cy="68.3" r="1.12"/>
<circle cx="476" cy="70.1" r="1.12"/>
<circle cx="468.8" cy="72.8" r="1.12"/>
<circle cx="456.5" cy="89" r="1.12"/>
<circle cx="475" cy="87" r="1.12"/>
<circle cx="466.9" cy="100.5" r="1.12"/>
<circle cx="477.9" cy="114.6" r="1.12"/>
<circle cx="448.1" cy="121.5" r="1.12"/>
<circle cx="463.1" cy="120.8" r="1.12"/>
<circle cx="471.3" cy="120.1" r="1.12"/>
<circle cx="476" cy="119.3" r="1.12"/>
<circle cx="471.3" cy="131.5" r="1.12"/>
<circle cx="473.5" cy="132.8" r="1.12"/>
<circle cx="460" cy="134.4" r="1.12"/>
<circle cx="467.8" cy="136.9" r="1.12"/>
<circle cx="468.8" cy="136.9" r="1.12"/>
<circle cx="456.5" cy="139" r="1.12"/>
<circle cx="461.3" cy="139.8" r="1.12"/>
<circle cx="462.3" cy="140.3" r="1.12"/>
<circle cx="471.3" cy="141.6" r="1.12"/>
<circle cx="455.6" cy="143.5" r="1.12"/>
<circle cx="463.1" cy="145.6" r="1.12"/>
<circle cx="467.3" cy="145.6" r="1.12"/>
<circle cx="469.4" cy="146.9" r="1.12"/>
<circle cx="478.8" cy="145.6" r="1.12"/>
<circle cx="447.5" cy="147.8" r="1.12"/>
<circle cx="455.6" cy="148.5" r="1.12"/>
<circle cx="468.1" cy="148.5" r="1.12"/>
<circle cx="470.3" cy="150.6" r="1.12"/>
<circle cx="450.6" cy="151.5" r="1.12"/>
<circle cx="455.6" cy="151" r="1.12"/>
<circle cx="460.6" cy="152.8" r="1.12"/>
<circle cx="466.9" cy="154.8" r="1.12"/>
<circle cx="450.6" cy="156" r="1.12"/>
<circle cx="455" cy="155.3" r="1.12"/>
<circle cx="457.5" cy="155.6" r="1.12"/>
<circle cx="453.1" cy="158.1" r="1.12"/>
<circle cx="451.9" cy="159.4" r="1.12"/>
<circle cx="458.8" cy="158.8" r="1.12"/>
<circle cx="465" cy="159.4" r="1.12"/>
<circle cx="472.5" cy="158.1" r="1.12"/>
<circle cx="478.8" cy="159.4" r="1.12"/>
<circle cx="447.5" cy="161.3" r="1.12"/>
<circle cx="451.3" cy="161.9" r="1.12"/>
<circle cx="456.3" cy="162.8" r="1.12"/>
<circle cx="462.5" cy="163.1" r="1.12"/>
<circle cx="468.1" cy="163.1" r="1.12"/>
<circle cx="471.3" cy="163.1" r="1.12"/>
<circle cx="473.8" cy="163.1" r="1.12"/>
<circle cx="478.1" cy="162.5" r="1.12"/>
<circle cx="448.8" cy="164.4" r="1.12"/>
<circle cx="450.6" cy="165" r="1.12"/>
<circle cx="460" cy="165.6" r="1.12"/>
<circle cx="461.9" cy="165" r="1.12"/>
<circle cx="476.3" cy="164.4" r="1.12"/>
<circle cx="465.6" cy="167.8" r="1.12"/>
<circle cx="470" cy="169" r="1.12"/>
<circle cx="471.3" cy="169" r="1.12"/>
<circle cx="479.4" cy="169" r="1.12"/>
<circle cx="463.8" cy="170" r="1.12"/>
<circle cx="456.9" cy="172.8" r="1.12"/>
<circle cx="458.1" cy="172.8" r="1.12"/>
<circle cx="461.9" cy="172.5" r="1.12"/>
<circle cx="480" cy="172.8" r="1.12"/>
<circle cx="450.6" cy="174.8" r="1.12"/>
<circle cx="453.1" cy="175.6" r="1.12"/>
<circle cx="476.3" cy="175.6" r="1.12"/>
<circle cx="459.4" cy="179.4" r="1.12"/>
<circle cx="455" cy="181" r="1.12"/>
<circle cx="458.1" cy="183.8" r="1.12"/>
<circle cx="477.3" cy="183.5" r="1.12"/>
<circle cx="465.6" cy="198.5" r="1.12"/>
<circle cx="131.3" cy="297.8" r="1.12"/>
<circle cx="136.6" cy="295" r="1.12"/>
<circle cx="113.1" cy="317.5" r="1.12"/>
<circle cx="135.6" cy="346.3" r="1.12"/>
<circle cx="141.9" cy="343.5" r="1.12"/>
<circle cx="112.5" cy="357.8" r="1.12"/>
<circle cx="109.4" cy="364" r="1.12"/>
<circle cx="111" cy="367.1" r="1.12"/>
<circle cx="120.6" cy="365.6" r="1.12"/>
<circle cx="121" cy="366.9" r="1.12"/>
<circle cx="127.3" cy="364.4" r="1.12"/>
<circle cx="136.9" cy="364" r="1.12"/>
<circle cx="115.6" cy="373.1" r="1.12"/>
<circle cx="123.5" cy="378.8" r="1.12"/>
<circle cx="123.5" cy="380.6" r="1.12"/>
<circle cx="123.1" cy="382.3" r="1.12"/>
<circle cx="114.8" cy="382.3" r="1.12"/>
<circle cx="115.4" cy="382.9" r="1.12"/>
<circle cx="120.6" cy="381.9" r="1.12"/>
<circle cx="119.4" cy="390" r="1.12"/>
<circle cx="124" cy="391.9" r="1.12"/>
<circle cx="140.6" cy="388.8" r="1.12"/>
<circle cx="138.5" cy="393.5" r="1.12"/>
<circle cx="115" cy="398.1" r="1.12"/>
<circle cx="120.6" cy="399" r="1.12"/>
<circle cx="121.9" cy="400" r="1.12"/>
<circle cx="109.4" cy="401.9" r="1.12"/>
<circle cx="125" cy="401.9" r="1.12"/>
<circle cx="127.5" cy="401.9" r="1.12"/>
<circle cx="131.3" cy="402.5" r="1.12"/>
<circle cx="138.8" cy="403.5" r="1.12"/>
<circle cx="109.4" cy="405.6" r="1.12"/>
<circle cx="121.5" cy="406.3" r="1.12"/>
<circle cx="121.9" cy="407.5" r="1.12"/>
<circle cx="126.3" cy="405.6" r="1.12"/>
<circle cx="138.8" cy="406.5" r="1.12"/>
<circle cx="139.4" cy="406.3" r="1.12"/>
<circle cx="138.8" cy="407.3" r="1.12"/>
<circle cx="115.6" cy="409.4" r="1.12"/>
<circle cx="115.6" cy="410.6" r="1.12"/>
<circle cx="122.5" cy="411" r="1.12"/>
<circle cx="131.9" cy="410.6" r="1.12"/>
<circle cx="135.6" cy="409" r="1.12"/>
<circle cx="125.6" cy="414.8" r="1.12"/>
<circle cx="126.9" cy="414.4" r="1.12"/>
<circle cx="131.3" cy="415" r="1.12"/>
<circle cx="134.8" cy="415.6" r="1.12"/>
<circle cx="137.8" cy="414.4" r="1.12"/>
<circle cx="113.1" cy="418.1" r="1.12"/>
<circle cx="122.8" cy="418.8" r="1.12"/>
<circle cx="194" cy="320.3" r="1.12"/>
<circle cx="215.4" cy="348.5" r="1.12"/>
<circle cx="214.8" cy="372.9" r="1.12"/>
<circle cx="197.9" cy="378.8" r="1.12"/>
<circle cx="187.3" cy="389.8" r="1.12"/>
<circle cx="194.8" cy="389.8" r="1.12"/>
<circle cx="196.9" cy="391.9" r="1.12"/>
<circle cx="205.6" cy="392.9" r="1.12"/>
<circle cx="211.5" cy="394.8" r="1.12"/>
<circle cx="218.5" cy="395.3" r="1.12"/>
<circle cx="191.5" cy="397.3" r="1.12"/>
<circle cx="201.5" cy="397.5" r="1.12"/>
<circle cx="188.8" cy="400.6" r="1.12"/>
<circle cx="191.9" cy="402.8" r="1.12"/>
<circle cx="192.5" cy="404.4" r="1.12"/>
<circle cx="199" cy="402.8" r="1.12"/>
<circle cx="218.5" cy="400" r="1.12"/>
<circle cx="219.8" cy="401.9" r="1.12"/>
<circle cx="191.6" cy="405.8" r="1.12"/>
<circle cx="213.0" cy="409.1" r="1.12"/>
<circle cx="203.8" cy="408.0" r="1.12"/>
<circle cx="209.2" cy="406.2" r="1.12"/>
<circle cx="190.2" cy="410.3" r="1.12"/>
<circle cx="215.4" cy="408.1" r="1.12"/>
<circle cx="212.9" cy="410.5" r="1.12"/>
<circle cx="202.1" cy="406.5" r="1.12"/>
<circle cx="194.8" cy="405.3" r="1.12"/>
<circle cx="217.6" cy="410.3" r="1.12"/>
<circle cx="187.9" cy="407.5" r="1.12"/>
<circle cx="218.9" cy="408.4" r="1.12"/>
<circle cx="194.4" cy="408.2" r="1.12"/>
<circle cx="188.0" cy="409.3" r="1.12"/>
<circle cx="201.9" cy="407.8" r="1.12"/>
<circle cx="194.9" cy="409.2" r="1.12"/>
<circle cx="194.4" cy="408.0" r="1.12"/>
<circle cx="196.9" cy="410.4" r="1.12"/>
<circle cx="215.5" cy="407.4" r="1.12"/>
<circle cx="208.8" cy="409.5" r="1.12"/>
<circle cx="220.7" cy="405.8" r="1.12"/>
<circle cx="191.1" cy="408.7" r="1.12"/>
<circle cx="211.5" cy="406.6" r="1.12"/>
<circle cx="218.8" cy="408.2" r="1.12"/>
<circle cx="215.2" cy="406.8" r="1.12"/>
<circle cx="197.3" cy="407.3" r="1.12"/>
<circle cx="217.0" cy="405.8" r="1.12"/>
<circle cx="204.2" cy="407.3" r="1.12"/>
<circle cx="188.2" cy="409.2" r="1.12"/>
<circle cx="214.1" cy="408.2" r="1.12"/>
<circle cx="192.9" cy="407.5" r="1.12"/>
<circle cx="210.9" cy="406.8" r="1.12"/>
<circle cx="199.7" cy="408.1" r="1.12"/>
<circle cx="204.3" cy="406.2" r="1.12"/>
<circle cx="204.7" cy="408.3" r="1.12"/>
<circle cx="203.6" cy="410.3" r="1.12"/>
<circle cx="188.5" cy="406.6" r="1.12"/>
<circle cx="220.4" cy="407.2" r="1.12"/>
<circle cx="202.9" cy="417.4" r="1.12"/>
<circle cx="218.5" cy="418.0" r="1.12"/>
<circle cx="204.8" cy="417.2" r="1.12"/>
<circle cx="194.1" cy="417.7" r="1.12"/>
<circle cx="208.8" cy="415.8" r="1.12"/>
<circle cx="191.1" cy="419.0" r="1.12"/>
<circle cx="191.0" cy="415.7" r="1.12"/>
<circle cx="210.9" cy="420.7" r="1.12"/>
<circle cx="220.4" cy="414.7" r="1.12"/>
<circle cx="209.6" cy="417.0" r="1.12"/>
<circle cx="193.2" cy="420.9" r="1.12"/>
<circle cx="205.4" cy="420.6" r="1.12"/>
<circle cx="194.3" cy="419.4" r="1.12"/>
<circle cx="189.0" cy="418.0" r="1.12"/>
<circle cx="202.5" cy="415.5" r="1.12"/>
<circle cx="205.1" cy="416.8" r="1.12"/>
<circle cx="204.5" cy="416.7" r="1.12"/>
<circle cx="203.1" cy="419.2" r="1.12"/>
<circle cx="220.9" cy="414.5" r="1.12"/>
<circle cx="215.7" cy="416.4" r="1.12"/>
<circle cx="198.4" cy="419.5" r="1.12"/>
<circle cx="197.5" cy="420.5" r="1.12"/>
<circle cx="213.3" cy="418.4" r="1.12"/>
<circle cx="215.9" cy="418.5" r="1.12"/>
<circle cx="219.6" cy="415.5" r="1.12"/>
<circle cx="188.0" cy="419.6" r="1.12"/>
<circle cx="218.0" cy="417.9" r="1.12"/>
<circle cx="220.4" cy="418.4" r="1.12"/>
<circle cx="190.4" cy="416.9" r="1.12"/>
<circle cx="213.7" cy="419.2" r="1.12"/>
<circle cx="190.9" cy="418.8" r="1.12"/>
<circle cx="219.8" cy="416.1" r="1.12"/>
<circle cx="191.9" cy="419.4" r="1.12"/>
<circle cx="191.3" cy="420.6" r="1.12"/>
<circle cx="214.3" cy="419.8" r="1.12"/>
<circle cx="206.5" cy="418.1" r="1.12"/>
<circle cx="194.3" cy="416.2" r="1.12"/>
<circle cx="192.3" cy="416.8" r="1.12"/>
<circle cx="191.8" cy="418.3" r="1.12"/>
<circle cx="195.0" cy="419.2" r="1.12"/>
<circle cx="203.8" cy="411.7" r="1.12"/>
<circle cx="209.3" cy="414.3" r="1.12"/>
<circle cx="190.3" cy="413.1" r="1.12"/>
<circle cx="197.9" cy="410.9" r="1.12"/>
<circle cx="210.0" cy="412.0" r="1.12"/>
<circle cx="206.2" cy="411.7" r="1.12"/>
<circle cx="194.2" cy="412.8" r="1.12"/>
<circle cx="194.7" cy="410.5" r="1.12"/>
<circle cx="375.6" cy="316" r="1.12"/>
<circle cx="377.8" cy="332.9" r="1.12"/>
<circle cx="374.4" cy="357.3" r="1.12"/>
<circle cx="373.1" cy="374.8" r="1.12"/>
<circle cx="392.5" cy="372.8" r="1.12"/>
<circle cx="367.5" cy="379.8" r="1.12"/>
<circle cx="367.9" cy="381.9" r="1.12"/>
<circle cx="387.5" cy="379.8" r="1.12"/>
<circle cx="392.5" cy="384.8" r="1.12"/>
<circle cx="393.1" cy="388.1" r="1.12"/>
<circle cx="378.8" cy="388.8" r="1.12"/>
<circle cx="386.9" cy="393.8" r="1.12"/>
<circle cx="370.6" cy="394.8" r="1.12"/>
<circle cx="367.5" cy="396.9" r="1.12"/>
<circle cx="367.3" cy="398.8" r="1.12"/>
<circle cx="381.5" cy="398.8" r="1.12"/>
<circle cx="395.3" cy="397.8" r="1.12"/>
<circle cx="394.4" cy="399" r="1.12"/>
<circle cx="387.8" cy="401.3" r="1.12"/>
<circle cx="384.4" cy="403.1" r="1.12"/>
<circle cx="398.5" cy="404.8" r="1.12"/>
<circle cx="368.9" cy="420.9" r="1.12"/>
<circle cx="394.6" cy="411.3" r="1.12"/>
<circle cx="389.1" cy="419.3" r="1.12"/>
<circle cx="387.0" cy="414.4" r="1.12"/>
<circle cx="386.2" cy="420.5" r="1.12"/>
<circle cx="381.2" cy="418.2" r="1.12"/>
<circle cx="390.9" cy="403.2" r="1.12"/>
<circle cx="398.3" cy="415.7" r="1.12"/>
<circle cx="381.7" cy="419.7" r="1.12"/>
<circle cx="368.2" cy="421.0" r="1.12"/>
<circle cx="382.3" cy="419.2" r="1.12"/>
<circle cx="379.5" cy="406.7" r="1.12"/>
<circle cx="384.3" cy="415.3" r="1.12"/>
<circle cx="374.8" cy="421.0" r="1.12"/>
<circle cx="377.7" cy="420.7" r="1.12"/>
<circle cx="383.8" cy="403.0" r="1.12"/>
<circle cx="389.3" cy="420.4" r="1.12"/>
<circle cx="396.5" cy="409.6" r="1.12"/>
<circle cx="391.2" cy="406.2" r="1.12"/>
<circle cx="392.2" cy="409.8" r="1.12"/>
<circle cx="378.7" cy="403.7" r="1.12"/>
<circle cx="398.7" cy="420.5" r="1.12"/>
<circle cx="391.9" cy="411.8" r="1.12"/>
<circle cx="382.2" cy="415.9" r="1.12"/>
<circle cx="383.2" cy="405.6" r="1.12"/>
<circle cx="383.5" cy="408.6" r="1.12"/>
<circle cx="378.7" cy="407.0" r="1.12"/>
<circle cx="396.7" cy="417.2" r="1.12"/>
<circle cx="385.7" cy="405.8" r="1.12"/>
<circle cx="390.9" cy="416.7" r="1.12"/>
<circle cx="374.3" cy="419.1" r="1.12"/>
<circle cx="390.1" cy="420.5" r="1.12"/>
<circle cx="397.0" cy="419.7" r="1.12"/>
<circle cx="397.1" cy="419.3" r="1.12"/>
<circle cx="398.6" cy="412.0" r="1.12"/>
<circle cx="383.6" cy="416.2" r="1.12"/>
<circle cx="388.5" cy="414.8" r="1.12"/>
<circle cx="377.3" cy="420.2" r="1.12"/>
<circle cx="383.9" cy="405.3" r="1.12"/>
<circle cx="387.6" cy="420.9" r="1.12"/>
<circle cx="394.1" cy="411.5" r="1.12"/>
<circle cx="397.0" cy="420.3" r="1.12"/>
<circle cx="391.6" cy="420.9" r="1.12"/>
<circle cx="388.5" cy="419.7" r="1.12"/>
<circle cx="374.5" cy="407.2" r="1.12"/>
<circle cx="370.5" cy="416.1" r="1.12"/>
<circle cx="395.2" cy="419.9" r="1.12"/>
<circle cx="373.9" cy="407.0" r="1.12"/>
<circle cx="381.0" cy="411.7" r="1.12"/>
<circle cx="368.1" cy="418.6" r="1.12"/>
<circle cx="372.7" cy="412.9" r="1.12"/>
<circle cx="369.7" cy="404.6" r="1.12"/>
<circle cx="367.8" cy="411.4" r="1.12"/>
<circle cx="367.7" cy="419.8" r="1.12"/>
<circle cx="393.8" cy="420.6" r="1.12"/>
<circle cx="373.1" cy="412.4" r="1.12"/>
<circle cx="379.7" cy="421.0" r="1.12"/>
<circle cx="399.7" cy="420.6" r="1.12"/>
<circle cx="368.2" cy="418.9" r="1.12"/>
<circle cx="387.3" cy="411.1" r="1.12"/>
<circle cx="370.7" cy="419.0" r="1.12"/>
<circle cx="368.0" cy="417.4" r="1.12"/>
<circle cx="392.3" cy="411.1" r="1.12"/>
<circle cx="396.8" cy="410.7" r="1.12"/>
<circle cx="395.5" cy="412.0" r="1.12"/>
<circle cx="382.6" cy="420.1" r="1.12"/>
<circle cx="388.8" cy="419.2" r="1.12"/>
<circle cx="370.4" cy="417.4" r="1.12"/>
<circle cx="395.9" cy="420.7" r="1.12"/>
<circle cx="386.3" cy="418.2" r="1.12"/>
<circle cx="384.0" cy="420.6" r="1.12"/>
<circle cx="398.7" cy="419.8" r="1.12"/>
<circle cx="387.0" cy="417.8" r="1.12"/>
<circle cx="367.6" cy="415.4" r="1.12"/>
<circle cx="371.6" cy="420.9" r="1.12"/>
<circle cx="368.1" cy="420.5" r="1.12"/>
<circle cx="370.2" cy="413.7" r="1.12"/>
<circle cx="383.8" cy="403.6" r="1.12"/>
<circle cx="397.8" cy="403.2" r="1.12"/>
<circle cx="374.7" cy="417.4" r="1.12"/>
<circle cx="375.3" cy="414.7" r="1.12"/>
<circle cx="387.6" cy="409.5" r="1.12"/>
<circle cx="390.4" cy="419.8" r="1.12"/>
<circle cx="381.0" cy="416.0" r="1.12"/>
<circle cx="367.2" cy="421.0" r="1.12"/>
<circle cx="380.5" cy="420.8" r="1.12"/>
<circle cx="390.9" cy="420.0" r="1.12"/>
<circle cx="370.3" cy="420.4" r="1.12"/>
<circle cx="374.6" cy="420.1" r="1.12"/>
<circle cx="384.2" cy="417.1" r="1.12"/>
<circle cx="377.2" cy="413.6" r="1.12"/>
<circle cx="374.0" cy="406.2" r="1.12"/>
<circle cx="398.8" cy="411.4" r="1.12"/>
<circle cx="381.3" cy="416.3" r="1.12"/>
<circle cx="386.2" cy="421.0" r="1.12"/>
<circle cx="380.8" cy="416.0" r="1.12"/>
<circle cx="373.0" cy="420.8" r="1.12"/>
<circle cx="393.5" cy="418.6" r="1.12"/>
<circle cx="384.1" cy="405.7" r="1.12"/>
<circle cx="387.1" cy="419.5" r="1.12"/>
<circle cx="399.5" cy="418.5" r="1.12"/>
<circle cx="367.6" cy="412.5" r="1.12"/>
<circle cx="370.3" cy="419.3" r="1.12"/>
<circle cx="394.7" cy="412.9" r="1.12"/>
<circle cx="367.5" cy="417.3" r="1.12"/>
<circle cx="380.6" cy="416.8" r="1.12"/>
<circle cx="373.9" cy="414.8" r="1.12"/>
<circle cx="369.4" cy="419.5" r="1.12"/>
<circle cx="379.3" cy="405.3" r="1.12"/>
<circle cx="460.6" cy="313.5" r="1.12"/>
<circle cx="478.1" cy="319.8" r="1.12"/>
<circle cx="463.5" cy="335" r="1.12"/>
<circle cx="467.8" cy="354.4" r="1.12"/>
<circle cx="461" cy="359.4" r="1.12"/>
<circle cx="475" cy="367.3" r="1.12"/>
<circle cx="460" cy="372.5" r="1.12"/>
<circle cx="459.8" cy="374.8" r="1.12"/>
<circle cx="471.9" cy="374" r="1.12"/>
<circle cx="447.3" cy="386.9" r="1.12"/>
<circle cx="479" cy="387.9" r="1.12"/>
<circle cx="463.8" cy="396.3" r="1.12"/>
<circle cx="457.9" cy="405" r="1.12"/>
<circle cx="460.6" cy="408.1" r="1.12"/>
<circle cx="464" cy="408.5" r="1.12"/>
<circle cx="450" cy="409.4" r="1.12"/>
<circle cx="474.8" cy="410.6" r="1.12"/>
<circle cx="465" cy="412.5" r="1.12"/>
<circle cx="451.3" cy="414.8" r="1.12"/>
<circle cx="457.9" cy="415.6" r="1.12"/>
<circle cx="473.1" cy="413.8" r="1.12"/>
<circle cx="477.8" cy="413.8" r="1.12"/>
<circle cx="477.3" cy="417.3" r="1.12"/>
<circle cx="473.5" cy="419.8" r="1.12"/>
<circle cx="103.6" cy="577.1" r="1.12"/>
<circle cx="106.5" cy="591.9" r="1.12"/>
<circle cx="117.8" cy="613" r="1.12"/>
<circle cx="116.9" cy="615.7" r="1.12"/>
<circle cx="100.7" cy="619.3" r="1.12"/>
<circle cx="104.3" cy="618.8" r="1.12"/>
<circle cx="107.4" cy="619.3" r="1.12"/>
<circle cx="119.2" cy="619.5" r="1.12"/>
<circle cx="105.1" cy="624.8" r="1.12"/>
<circle cx="108.0" cy="624.3" r="1.12"/>
<circle cx="113.5" cy="629.4" r="1.12"/>
<circle cx="100.3" cy="622.0" r="1.12"/>
<circle cx="105.6" cy="627.8" r="1.12"/>
<circle cx="121.4" cy="625.5" r="1.12"/>
<circle cx="118.0" cy="625.5" r="1.12"/>
<circle cx="113.7" cy="628.6" r="1.12"/>
<circle cx="113.6" cy="621.8" r="1.12"/>
<circle cx="111.2" cy="623.0" r="1.12"/>
<circle cx="114.4" cy="629.4" r="1.12"/>
<circle cx="116.3" cy="624.4" r="1.12"/>
<circle cx="106.5" cy="629.7" r="1.12"/>
<circle cx="118.6" cy="625.5" r="1.12"/>
<circle cx="115.5" cy="621.7" r="1.12"/>
<circle cx="115.4" cy="621.2" r="1.12"/>
<circle cx="108.5" cy="622.4" r="1.12"/>
<circle cx="109.6" cy="621.1" r="1.12"/>
<circle cx="118.9" cy="629.1" r="1.12"/>
<circle cx="102.9" cy="627.9" r="1.12"/>
<circle cx="120.8" cy="625.9" r="1.12"/>
<circle cx="113.5" cy="627.1" r="1.12"/>
<circle cx="110.9" cy="626.3" r="1.12"/>
<circle cx="107.5" cy="624.4" r="1.12"/>
<circle cx="112.6" cy="621.4" r="1.12"/>
<circle cx="114.7" cy="621.2" r="1.12"/>
<circle cx="118.4" cy="620.6" r="1.12"/>
<circle cx="114.4" cy="628.5" r="1.12"/>
<circle cx="118.5" cy="620.8" r="1.12"/>
<circle cx="119.5" cy="624.6" r="1.12"/>
<circle cx="159.7" cy="543.3" r="1.12"/>
<circle cx="162.9" cy="578.9" r="1.12"/>
<circle cx="165.8" cy="585.6" r="1.12"/>
<circle cx="156.8" cy="590.8" r="1.12"/>
<circle cx="160.4" cy="591.5" r="1.12"/>
<circle cx="162" cy="589.7" r="1.12"/>
<circle cx="165.1" cy="589.4" r="1.12"/>
<circle cx="157.8" cy="595.8" r="1.12"/>
<circle cx="162" cy="601.5" r="1.12"/>
<circle cx="167.6" cy="599.8" r="1.12"/>
<circle cx="167.6" cy="601.6" r="1.12"/>
<circle cx="172.6" cy="599.8" r="1.12"/>
<circle cx="173" cy="602.1" r="1.12"/>
<circle cx="157.8" cy="606.9" r="1.12"/>
<circle cx="159.9" cy="607.8" r="1.12"/>
<circle cx="161.7" cy="611.1" r="1.12"/>
<circle cx="159.6" cy="609.8" r="1.12"/>
<circle cx="166" cy="609.1" r="1.12"/>
<circle cx="174.8" cy="609.1" r="1.12"/>
<circle cx="177.4" cy="609.8" r="1.12"/>
<circle cx="178.9" cy="608" r="1.12"/>
<circle cx="168" cy="612" r="1.12"/>
<circle cx="156.8" cy="612.5" r="1.12"/>
<circle cx="160.5" cy="628.2" r="1.12"/>
<circle cx="164.3" cy="627.4" r="1.12"/>
<circle cx="156.6" cy="623.2" r="1.12"/>
<circle cx="176.6" cy="616.4" r="1.12"/>
<circle cx="173.0" cy="626.2" r="1.12"/>
<circle cx="167.6" cy="625.3" r="1.12"/>
<circle cx="159.1" cy="628.2" r="1.12"/>
<circle cx="160.0" cy="614.2" r="1.12"/>
<circle cx="174.5" cy="616.3" r="1.12"/>
<circle cx="173.8" cy="626.7" r="1.12"/>
<circle cx="162.3" cy="619.3" r="1.12"/>
<circle cx="172.2" cy="615.5" r="1.12"/>
<circle cx="175.7" cy="628.5" r="1.12"/>
<circle cx="169.2" cy="618.6" r="1.12"/>
<circle cx="166.9" cy="627.0" r="1.12"/>
<circle cx="166.1" cy="628.5" r="1.12"/>
<circle cx="177.0" cy="615.3" r="1.12"/>
<circle cx="167.9" cy="624.9" r="1.12"/>
<circle cx="176.4" cy="620.3" r="1.12"/>
<circle cx="175.7" cy="615.6" r="1.12"/>
<circle cx="166.9" cy="623.0" r="1.12"/>
<circle cx="169.1" cy="622.7" r="1.12"/>
<circle cx="158.8" cy="624.8" r="1.12"/>
<circle cx="174.1" cy="629.3" r="1.12"/>
<circle cx="156.1" cy="619.4" r="1.12"/>
<circle cx="161.6" cy="620.9" r="1.12"/>
<circle cx="166.1" cy="624.2" r="1.12"/>
<circle cx="178.4" cy="626.7" r="1.12"/>
<circle cx="164.7" cy="626.6" r="1.12"/>
<circle cx="169.9" cy="625.3" r="1.12"/>
<circle cx="163.4" cy="617.3" r="1.12"/>
<circle cx="162.5" cy="620.5" r="1.12"/>
<circle cx="176.3" cy="628.3" r="1.12"/>
<circle cx="156.4" cy="626.1" r="1.12"/>
<circle cx="173.0" cy="619.5" r="1.12"/>
<circle cx="160.6" cy="624.4" r="1.12"/>
<circle cx="159.2" cy="622.2" r="1.12"/>
<circle cx="156.0" cy="618.1" r="1.12"/>
<circle cx="176.1" cy="613.8" r="1.12"/>
<circle cx="172.3" cy="613.7" r="1.12"/>
<circle cx="155.4" cy="625.1" r="1.12"/>
<circle cx="177.7" cy="616.8" r="1.12"/>
<circle cx="164.6" cy="614.0" r="1.12"/>
<circle cx="169.6" cy="616.1" r="1.12"/>
<circle cx="161.9" cy="626.7" r="1.12"/>
<circle cx="165.4" cy="627.7" r="1.12"/>
<circle cx="164.0" cy="613.6" r="1.12"/>
<circle cx="162.8" cy="629.8" r="1.12"/>
<circle cx="156.1" cy="627.1" r="1.12"/>
<circle cx="173.4" cy="623.8" r="1.12"/>
<circle cx="161.8" cy="628.3" r="1.12"/>
<circle cx="178.1" cy="622.8" r="1.12"/>
<circle cx="159.9" cy="629.0" r="1.12"/>
<circle cx="156.3" cy="627.1" r="1.12"/>
<circle cx="170.9" cy="627.5" r="1.12"/>
<circle cx="156.0" cy="621.7" r="1.12"/>
<circle cx="160.9" cy="613.0" r="1.12"/>
<circle cx="157.9" cy="621.0" r="1.12"/>
<circle cx="173.2" cy="623.0" r="1.12"/>
<circle cx="178.2" cy="621.9" r="1.12"/>
<circle cx="160.7" cy="623.0" r="1.12"/>
<circle cx="155.9" cy="622.8" r="1.12"/>
<circle cx="160.8" cy="614.9" r="1.12"/>
<circle cx="174.5" cy="621.5" r="1.12"/>
<circle cx="155.7" cy="625.7" r="1.12"/>
<circle cx="160.7" cy="626.5" r="1.12"/>
<circle cx="160.4" cy="615.2" r="1.12"/>
<circle cx="158.3" cy="629.1" r="1.12"/>
<circle cx="176.8" cy="620.4" r="1.12"/>
<circle cx="178.3" cy="623.1" r="1.12"/>
<circle cx="176.2" cy="618.9" r="1.12"/>
<circle cx="173.6" cy="617.3" r="1.12"/>
<circle cx="166.6" cy="628.4" r="1.12"/>
<circle cx="160.0" cy="615.1" r="1.12"/>
<circle cx="176.1" cy="614.3" r="1.12"/>
<circle cx="231.3" cy="540.9" r="1.12"/>
<circle cx="232.1" cy="546.2" r="1.12"/>
<circle cx="229.6" cy="556.9" r="1.12"/>
<circle cx="223" cy="559.1" r="1.12"/>
<circle cx="229.8" cy="574.9" r="1.12"/>
<circle cx="220.5" cy="602.2" r="1.12"/>
<circle cx="233.6" cy="615" r="1.12"/>
<circle cx="233" cy="616.1" r="1.12"/>
<circle cx="233.9" cy="620.4" r="1.12"/>
<circle cx="216.2" cy="623.3" r="1.12"/>
<circle cx="218" cy="629" r="1.12"/>
<circle cx="376.5" cy="514.8" r="1.12"/>
<circle cx="381.3" cy="529.8" r="1.12"/>
<circle cx="369.8" cy="559.6" r="1.12"/>
<circle cx="389.8" cy="557.3" r="1.12"/>
<circle cx="380" cy="568.8" r="1.12"/>
<circle cx="370.4" cy="574.4" r="1.12"/>
<circle cx="377.3" cy="577.1" r="1.12"/>
<circle cx="387.8" cy="574.8" r="1.12"/>
<circle cx="385.6" cy="577.1" r="1.12"/>
<circle cx="391.6" cy="574.4" r="1.12"/>
<circle cx="397.1" cy="575.9" r="1.12"/>
<circle cx="375.4" cy="582.8" r="1.12"/>
<circle cx="386.3" cy="582.8" r="1.12"/>
<circle cx="373.8" cy="588.5" r="1.12"/>
<circle cx="375" cy="591.3" r="1.12"/>
<circle cx="371.3" cy="592.3" r="1.12"/>
<circle cx="386.9" cy="592.3" r="1.12"/>
<circle cx="385" cy="598.1" r="1.12"/>
<circle cx="385" cy="601.9" r="1.12"/>
<circle cx="375.6" cy="599" r="1.12"/>
<circle cx="379" cy="598.8" r="1.12"/>
<circle cx="370.6" cy="603.8" r="1.12"/>
<circle cx="374.4" cy="602.9" r="1.12"/>
<circle cx="378.8" cy="604.4" r="1.12"/>
<circle cx="380" cy="606.9" r="1.12"/>
<circle cx="391.9" cy="606.3" r="1.12"/>
<circle cx="394.4" cy="606.3" r="1.12"/>
<circle cx="375" cy="608.5" r="1.12"/>
<circle cx="376" cy="609.4" r="1.12"/>
<circle cx="369" cy="609" r="1.12"/>
<circle cx="392.5" cy="610" r="1.12"/>
<circle cx="396.9" cy="609.8" r="1.12"/>
<circle cx="387.2" cy="619.1" r="1.12"/>
<circle cx="392.8" cy="613.0" r="1.12"/>
<circle cx="391.0" cy="613.7" r="1.12"/>
<circle cx="367.9" cy="625.1" r="1.12"/>
<circle cx="397.7" cy="621.4" r="1.12"/>
<circle cx="396.3" cy="628.8" r="1.12"/>
<circle cx="382.2" cy="627.9" r="1.12"/>
<circle cx="384.7" cy="623.1" r="1.12"/>
<circle cx="367.4" cy="628.2" r="1.12"/>
<circle cx="376.1" cy="613.9" r="1.12"/>
<circle cx="391.9" cy="628.5" r="1.12"/>
<circle cx="392.9" cy="628.7" r="1.12"/>
<circle cx="387.1" cy="628.7" r="1.12"/>
<circle cx="367.1" cy="615.3" r="1.12"/>
<circle cx="373.8" cy="628.2" r="1.12"/>
<circle cx="398.9" cy="615.3" r="1.12"/>
<circle cx="376.4" cy="612.4" r="1.12"/>
<circle cx="384.5" cy="620.7" r="1.12"/>
<circle cx="373.7" cy="613.1" r="1.12"/>
<circle cx="389.4" cy="612.2" r="1.12"/>
<circle cx="396.0" cy="627.4" r="1.12"/>
<circle cx="378.7" cy="628.5" r="1.12"/>
<circle cx="371.7" cy="628.9" r="1.12"/>
<circle cx="376.8" cy="622.5" r="1.12"/>
<circle cx="367.1" cy="620.7" r="1.12"/>
<circle cx="378.0" cy="627.3" r="1.12"/>
<circle cx="393.6" cy="624.8" r="1.12"/>
<circle cx="377.3" cy="624.8" r="1.12"/>
<circle cx="389.9" cy="628.9" r="1.12"/>
<circle cx="398.7" cy="629.0" r="1.12"/>
<circle cx="391.4" cy="616.2" r="1.12"/>
<circle cx="367.6" cy="617.8" r="1.12"/>
<circle cx="378.9" cy="623.0" r="1.12"/>
<circle cx="367.3" cy="629.0" r="1.12"/>
<circle cx="372.9" cy="612.6" r="1.12"/>
<circle cx="373.4" cy="618.7" r="1.12"/>
<circle cx="397.2" cy="613.0" r="1.12"/>
<circle cx="378.2" cy="626.7" r="1.12"/>
<circle cx="384.1" cy="618.2" r="1.12"/>
<circle cx="370.5" cy="618.9" r="1.12"/>
<circle cx="392.9" cy="615.7" r="1.12"/>
<circle cx="368.2" cy="612.9" r="1.12"/>
<circle cx="370.0" cy="626.9" r="1.12"/>
<circle cx="386.9" cy="613.8" r="1.12"/>
<circle cx="378.0" cy="613.6" r="1.12"/>
<circle cx="384.7" cy="627.2" r="1.12"/>
<circle cx="377.3" cy="628.4" r="1.12"/>
<circle cx="369.5" cy="628.6" r="1.12"/>
<circle cx="389.4" cy="611.1" r="1.12"/>
<circle cx="372.2" cy="629.0" r="1.12"/>
<circle cx="399.1" cy="623.9" r="1.12"/>
<circle cx="380.2" cy="628.0" r="1.12"/>
<circle cx="386.3" cy="616.7" r="1.12"/>
<circle cx="381.8" cy="625.8" r="1.12"/>
<circle cx="368.8" cy="613.9" r="1.12"/>
<circle cx="368.1" cy="624.6" r="1.12"/>
<circle cx="394.2" cy="628.7" r="1.12"/>
<circle cx="390.8" cy="612.8" r="1.12"/>
<circle cx="387.5" cy="617.8" r="1.12"/>
<circle cx="370.5" cy="625.6" r="1.12"/>
<circle cx="371.9" cy="616.2" r="1.12"/>
<circle cx="376.6" cy="625.3" r="1.12"/>
<circle cx="399.5" cy="615.9" r="1.12"/>
<circle cx="398.7" cy="625.3" r="1.12"/>
<circle cx="382.9" cy="619.4" r="1.12"/>
<circle cx="382.6" cy="627.5" r="1.12"/>
<circle cx="380.1" cy="628.6" r="1.12"/>
<circle cx="379.3" cy="611.4" r="1.12"/>
<circle cx="398.2" cy="621.9" r="1.12"/>
<circle cx="383.2" cy="626.9" r="1.12"/>
<circle cx="369.9" cy="627.7" r="1.12"/>
<circle cx="392.4" cy="615.5" r="1.12"/>
<circle cx="378.7" cy="617.9" r="1.12"/>
<circle cx="392.2" cy="620.3" r="1.12"/>
<circle cx="388.6" cy="618.6" r="1.12"/>
<circle cx="378.8" cy="620.1" r="1.12"/>
<circle cx="376.1" cy="624.8" r="1.12"/>
<circle cx="392.0" cy="620.4" r="1.12"/>
<circle cx="376.6" cy="612.9" r="1.12"/>
<circle cx="388.1" cy="622.9" r="1.12"/>
<circle cx="367.4" cy="623.6" r="1.12"/>
<circle cx="375.1" cy="620.9" r="1.12"/>
<circle cx="382.0" cy="617.0" r="1.12"/>
<circle cx="388.0" cy="617.5" r="1.12"/>
<circle cx="378.3" cy="621.5" r="1.12"/>
<circle cx="391.0" cy="616.7" r="1.12"/>
<circle cx="378.4" cy="616.2" r="1.12"/>
<circle cx="395.3" cy="620.5" r="1.12"/>
<circle cx="398.7" cy="612.5" r="1.12"/>
<circle cx="383.8" cy="624.0" r="1.12"/>
<circle cx="372.4" cy="616.4" r="1.12"/>
<circle cx="397.5" cy="624.9" r="1.12"/>
<circle cx="389.5" cy="619.7" r="1.12"/>
<circle cx="390.7" cy="628.5" r="1.12"/>
<circle cx="392.4" cy="622.9" r="1.12"/>
<circle cx="388.6" cy="625.8" r="1.12"/>
<circle cx="387.3" cy="618.2" r="1.12"/>
<circle cx="387.7" cy="619.7" r="1.12"/>
<circle cx="367.9" cy="628.5" r="1.12"/>
<circle cx="381.3" cy="621.4" r="1.12"/>
<circle cx="374.1" cy="620.5" r="1.12"/>
<circle cx="387.5" cy="629.0" r="1.12"/>
<circle cx="382.3" cy="628.1" r="1.12"/>
<circle cx="368.8" cy="628.7" r="1.12"/>
<circle cx="377.3" cy="628.4" r="1.12"/>
<circle cx="373.3" cy="629.0" r="1.12"/>
<circle cx="382.1" cy="626.4" r="1.12"/>
<circle cx="386.9" cy="622.7" r="1.12"/>
<circle cx="374.7" cy="614.3" r="1.12"/>
<circle cx="367.0" cy="626.0" r="1.12"/>
<circle cx="454" cy="510.6" r="1.12"/>
<circle cx="461.9" cy="508.1" r="1.12"/>
<circle cx="446.3" cy="554.8" r="1.12"/>
<circle cx="465" cy="585.3" r="1.12"/>
<circle cx="463.1" cy="588.1" r="1.12"/>
<circle cx="456.5" cy="590.6" r="1.12"/>
<circle cx="454.8" cy="601" r="1.12"/>
<circle cx="465.3" cy="615" r="1.12"/>
<circle cx="471.3" cy="616" r="1.12"/>
<circle cx="467.8" cy="619.4" r="1.12"/>
<circle cx="468.8" cy="621" r="1.12"/>
<circle cx="448.1" cy="622.3" r="1.12"/>
<circle cx="448.8" cy="624" r="1.12"/>
<circle cx="468.1" cy="626.3" r="1.12"/>
<circle cx="231.9" cy="816.1" r="1.28"/>
<circle cx="237.8" cy="825.6" r="1.28"/>
<circle cx="245.7" cy="825.3" r="1.28"/>
<circle cx="239.9" cy="827.8" r="1.28"/>
<circle cx="249.1" cy="828.8" r="1.28"/>
<circle cx="229.8" cy="830.4" r="1.28"/>
<circle cx="230.9" cy="834.1" r="1.28"/>
<circle cx="236.2" cy="832" r="1.28"/>
<circle cx="239.3" cy="833" r="1.28"/>
<circle cx="244.1" cy="834.6" r="1.28"/>
<circle cx="245.7" cy="830.4" r="1.28"/>
<circle cx="230.3" cy="835.7" r="1.28"/>
<circle cx="285.3" cy="824.6" r="1.28"/>
<circle cx="291.7" cy="821.4" r="1.28"/>
<circle cx="297" cy="820.9" r="1.28"/>
<circle cx="297.7" cy="823.8" r="1.28"/>
<circle cx="297.7" cy="826.2" r="1.28"/>
<circle cx="302.8" cy="821.4" r="1.28"/>
<circle cx="303.3" cy="824.6" r="1.28"/>
<circle cx="304.4" cy="827.2" r="1.28"/>
<circle cx="308.1" cy="821.4" r="1.28"/>
<circle cx="308.9" cy="825.1" r="1.28"/>
<circle cx="309.2" cy="827.2" r="1.28"/>
<circle cx="294.9" cy="828.8" r="1.28"/>
<circle cx="304.5" cy="830.7" r="1.28"/>
<circle cx="297.1" cy="834.4" r="1.28"/>
<circle cx="285.5" cy="831.8" r="1.28"/>
<circle cx="296.8" cy="831.1" r="1.28"/>
<circle cx="294.5" cy="831.0" r="1.28"/>
<circle cx="292.0" cy="830.8" r="1.28"/>
<circle cx="303.0" cy="833.4" r="1.28"/>
<circle cx="298.4" cy="831.6" r="1.28"/>
<circle cx="290.1" cy="832.5" r="1.28"/>
<circle cx="304.8" cy="834.4" r="1.28"/>
<circle cx="304.8" cy="831.6" r="1.28"/>
<circle cx="305.8" cy="834.0" r="1.28"/>
<circle cx="287.7" cy="830.8" r="1.28"/>
<circle cx="304.8" cy="833.2" r="1.28"/>
<circle cx="287.8" cy="834.9" r="1.28"/>
<circle cx="300.7" cy="834.2" r="1.28"/>
<circle cx="308.3" cy="832.3" r="1.28"/>
<circle cx="290.3" cy="831.8" r="1.28"/>
<circle cx="294.1" cy="830.0" r="1.28"/>
<circle cx="307.3" cy="832.8" r="1.28"/>
<circle cx="301.0" cy="831.5" r="1.28"/>
<circle cx="304.8" cy="829.7" r="1.28"/>
<circle cx="286.2" cy="833.8" r="1.28"/>
<circle cx="299.9" cy="834.2" r="1.28"/>
<circle cx="299.6" cy="835.6" r="1.28"/>
<circle cx="306.6" cy="832.7" r="1.28"/>
<circle cx="288.3" cy="831.8" r="1.28"/>
<circle cx="293.0" cy="834.9" r="1.28"/>
<circle cx="297.1" cy="835.3" r="1.28"/>
<circle cx="290.5" cy="830.4" r="1.28"/>
<circle cx="302.3" cy="836.1" r="1.28"/>
<circle cx="304.2" cy="836.1" r="1.28"/>
<circle cx="293.5" cy="830.1" r="1.28"/>
<circle cx="300.4" cy="834.1" r="1.28"/>
<circle cx="294.6" cy="833.6" r="1.28"/>
<circle cx="288.5" cy="829.5" r="1.28"/>
<circle cx="286.8" cy="833.4" r="1.28"/>
<circle cx="303.4" cy="833.5" r="1.28"/>
<circle cx="309.0" cy="834.6" r="1.28"/>
<circle cx="309.0" cy="830.2" r="1.28"/>
<circle cx="301.6" cy="830.2" r="1.28"/>
<circle cx="296.2" cy="830.6" r="1.28"/>
<circle cx="304.6" cy="832.7" r="1.28"/>
<circle cx="296.8" cy="831.5" r="1.28"/>
<circle cx="295.3" cy="835.6" r="1.28"/>
<circle cx="303.4" cy="834.4" r="1.28"/>
<circle cx="297.2" cy="830.9" r="1.28"/>
<circle cx="289.6" cy="836.1" r="1.28"/>
<circle cx="288.5" cy="832.3" r="1.28"/>
<circle cx="294.2" cy="834.5" r="1.28"/>
<circle cx="296.3" cy="830.0" r="1.28"/>
<circle cx="291.6" cy="833.4" r="1.28"/>
<circle cx="306.6" cy="832.1" r="1.28"/>
<circle cx="291.9" cy="833.0" r="1.28"/>
<circle cx="297.0" cy="835.2" r="1.28"/>
<circle cx="294.6" cy="834.2" r="1.28"/>
<circle cx="304.8" cy="834.0" r="1.28"/>
<circle cx="301.3" cy="829.7" r="1.28"/>
<circle cx="307.7" cy="833.7" r="1.28"/>
<circle cx="300.0" cy="834.1" r="1.28"/>
<circle cx="295.1" cy="832.9" r="1.28"/>
<circle cx="304.5" cy="829.9" r="1.28"/>
<circle cx="292.5" cy="836.2" r="1.28"/>
<circle cx="296.3" cy="835.8" r="1.28"/>
<circle cx="286.2" cy="831.0" r="1.28"/>
<circle cx="288.2" cy="831.4" r="1.28"/>
<circle cx="294.2" cy="829.9" r="1.28"/>
<circle cx="306.0" cy="835.8" r="1.28"/>
<circle cx="290.1" cy="829.9" r="1.28"/>
<circle cx="300.2" cy="833.4" r="1.28"/>
<circle cx="304.3" cy="830.7" r="1.28"/>
<circle cx="297.3" cy="833.1" r="1.28"/>
<circle cx="287.9" cy="833.8" r="1.28"/>
<circle cx="289.0" cy="832.0" r="1.28"/>
<circle cx="300.1" cy="835.2" r="1.28"/>
<circle cx="300.6" cy="835.5" r="1.28"/>
<circle cx="288.0" cy="831.9" r="1.28"/>
<circle cx="296.6" cy="830.2" r="1.28"/>
<circle cx="300.6" cy="831.5" r="1.28"/>
<circle cx="288.5" cy="830.6" r="1.28"/>
<circle cx="287.5" cy="832.1" r="1.28"/>
<circle cx="307.4" cy="830.1" r="1.28"/>
<circle cx="306.9" cy="833.2" r="1.28"/>
<circle cx="302.2" cy="830.9" r="1.28"/>
<circle cx="288.8" cy="829.9" r="1.28"/>
<circle cx="307.3" cy="833.2" r="1.28"/>
<circle cx="304.2" cy="833.2" r="1.28"/>
<circle cx="292.1" cy="831.4" r="1.28"/>
<circle cx="287.0" cy="830.8" r="1.28"/>
<circle cx="309.0" cy="834.3" r="1.28"/>
<circle cx="308.1" cy="835.6" r="1.28"/>
<circle cx="306.1" cy="834.3" r="1.28"/>
<circle cx="308.7" cy="833.3" r="1.28"/>
<circle cx="307.6" cy="836.0" r="1.28"/>
<circle cx="287.6" cy="830.7" r="1.28"/>
<circle cx="365" cy="690" r="1.28"/>
<circle cx="342" cy="803.7" r="1.28"/>
<circle cx="360.8" cy="803.2" r="1.28"/>
<circle cx="364.4" cy="804.8" r="1.28"/>
<circle cx="360.8" cy="809.6" r="1.28"/>
<circle cx="366.1" cy="809.1" r="1.28"/>
<circle cx="361" cy="815.7" r="1.28"/>
<circle cx="362.7" cy="817.3" r="1.28"/>
<circle cx="343.3" cy="819.5" r="1.28"/>
<circle cx="347.1" cy="823.4" r="1.28"/>
<circle cx="356.9" cy="821" r="1.28"/>
<circle cx="354.5" cy="820.2" r="1.28"/>
<circle cx="355" cy="823.8" r="1.28"/>
<circle cx="342.7" cy="827.7" r="1.28"/>
<circle cx="356" cy="827.7" r="1.28"/>
<circle cx="357.9" cy="828.2" r="1.28"/>
<circle cx="349.8" cy="835.0" r="1.28"/>
<circle cx="357.2" cy="835.5" r="1.28"/>
<circle cx="354.6" cy="833.7" r="1.28"/>
<circle cx="343.8" cy="832.8" r="1.28"/>
<circle cx="343.3" cy="833.2" r="1.28"/>
<circle cx="344.1" cy="835.4" r="1.28"/>
<circle cx="352.1" cy="830.7" r="1.28"/>
<circle cx="345.3" cy="834.6" r="1.28"/>
<circle cx="356.7" cy="829.9" r="1.28"/>
<circle cx="355.5" cy="833.5" r="1.28"/>
<circle cx="364.6" cy="835.7" r="1.28"/>
<circle cx="361.9" cy="834.1" r="1.28"/>
<circle cx="345.8" cy="835.2" r="1.28"/>
<circle cx="349.5" cy="830.8" r="1.28"/>
<circle cx="346.6" cy="832.3" r="1.28"/>
<circle cx="356.9" cy="833.6" r="1.28"/>
<circle cx="354.9" cy="835.6" r="1.28"/>
<circle cx="343.8" cy="834.7" r="1.28"/>
<circle cx="357.9" cy="833.3" r="1.28"/>
<circle cx="349.6" cy="832.3" r="1.28"/>
<circle cx="352.7" cy="834.1" r="1.28"/>
<circle cx="360.5" cy="831.5" r="1.28"/>
<circle cx="348.0" cy="832.3" r="1.28"/>
<circle cx="354.4" cy="830.4" r="1.28"/>
<circle cx="359.0" cy="834.2" r="1.28"/>
<circle cx="364.7" cy="835.2" r="1.28"/>
<circle cx="351.9" cy="831.2" r="1.28"/>
<circle cx="345.9" cy="832.9" r="1.28"/>
<circle cx="343.4" cy="831.7" r="1.28"/>
<circle cx="359.8" cy="832.3" r="1.28"/>
<circle cx="362.3" cy="834.0" r="1.28"/>
<circle cx="358.2" cy="832.2" r="1.28"/>
<circle cx="355.6" cy="833.1" r="1.28"/>
<circle cx="361.5" cy="830.0" r="1.28"/>
<circle cx="353.2" cy="831.7" r="1.28"/>
<circle cx="343.9" cy="831.5" r="1.28"/>
<circle cx="357.1" cy="829.6" r="1.28"/>
<circle cx="361.1" cy="834.2" r="1.28"/>
<circle cx="351.2" cy="831.7" r="1.28"/>
<circle cx="343.0" cy="833.0" r="1.28"/>
</g>
</svg>
</body></html>
